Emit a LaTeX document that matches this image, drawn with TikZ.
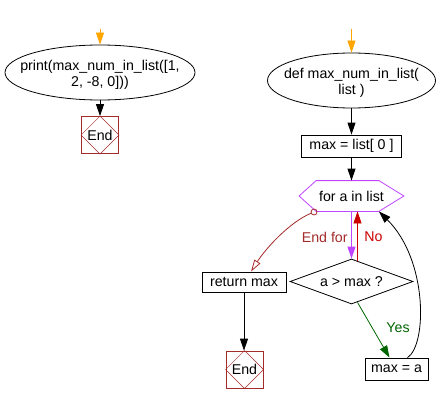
\documentclass[tikz,border=0pt]{standalone}
\usepackage{fontspec}
\setmainfont{Liberation Sans}
\usetikzlibrary{shapes.geometric,arrows.meta}
\definecolor{endred}{RGB}{165,42,42}
\definecolor{orng}{RGB}{255,165,0}
\definecolor{vio}{RGB}{190,70,255}
\definecolor{nored}{RGB}{204,0,0}
\definecolor{yesgreen}{RGB}{0,100,0}
\begin{document}
\begin{tikzpicture}[x=1pt,y=-1pt, font=\fontsize{14.2}{16}\selectfont, line width=0.8pt,
  ell/.style={draw, ellipse, inner sep=0pt},
  etext/.style={align=center, inner sep=0pt},
  proc/.style={draw, rectangle, inner sep=0pt},
  endbox/.style={draw=endred, rectangle, minimum width=37pt, minimum height=37pt, inner sep=0pt},
  arr/.style={-{Triangle[length=12pt,width=8pt]}},
  oarr/.style={-{Triangle[open,length=12pt,width=7pt]}},
  endmark/.style={endred, line width=0.5pt},
]
\useasboundingbox (0,0) rectangle (438,404);

% left flow
\node[ell, minimum width=190pt, minimum height=55pt] (p) at (100,72.5) {};
\node[etext] (pt) at ([yshift=-2pt]p.center) {print(max\_num\_in\_list([1,\\2, -8, 0]))};
\node[endbox] (end1) at (100,135) {End};
\draw[endmark] (end1.north) -- (end1.east) -- (end1.south) -- (end1.west) -- cycle;
\coordinate (s1) at (100,29);
\draw[orng, arr] (s1) -- (p.north);
\draw[arr] (p.south) -- (end1.north);

% right flow
\node[ell, minimum width=168pt, minimum height=55pt] (def) at (351.5,80.5) {};
\node[etext] (deft) at ([yshift=-2pt]def.center) {def max\_num\_in\_list(\\list )};
\coordinate (s2) at (351.5,29);
\draw[orng, arr] (s2) -- (def.north);
\node[proc, minimum width=100pt, minimum height=22pt] (init) at (351.5,146) {max = list[ 0 ]};
\draw[arr] (def.south) -- (init.north);

\node[minimum width=104pt, minimum height=30pt, inner sep=0pt] (loop) at (351.5,196) {for a in list};
\draw[vio] (loop.west) -- ([xshift=17pt]loop.north west) -- ([xshift=-25pt]loop.north east) -- (loop.east) -- ([xshift=-25pt]loop.south east) -- ([xshift=17pt]loop.south west) -- cycle;
\draw[arr] (init.south) -- (loop.north);

\node[draw, diamond, aspect=2.7, minimum width=123pt, minimum height=45pt, inner sep=0pt] (cond) at (351.5,281.5) {a > max ?};
\draw[vio, arr] (loop.south) -- (cond.north);
\draw[nored, arr] ([xshift=6pt,yshift=-2pt]cond.north) -- ([xshift=6pt]loop.south);

\node[endred, anchor=east, inner sep=0pt] (lend) at (348,237) {End for};
\node[nored, anchor=west, inner sep=0pt] (lno) at (364,237) {No};
\node[yesgreen, inner sep=0pt] (lyes) at (398,328) {Yes};

\node[proc, minimum width=84pt, minimum height=20pt] (ret) at (244,282) {return max};
\node[endbox] (end2) at (244.5,369.5) {End};
\draw[endmark] (end2.north) -- (end2.east) -- (end2.south) -- (end2.west) -- cycle;
\draw[arr] (ret.south) -- (ret.south |- end2.north);

\node[proc, minimum width=63pt, minimum height=22pt] (upd) at (396.5,369) {max = a};

\node[draw=endred, circle, inner sep=0pt, minimum size=6pt] (eo) at (314,212) {};
\draw[endred, oarr] (eo) .. controls (290,222) and (266,248) .. ([xshift=7pt]ret.north);

\draw[yesgreen, arr] ([xshift=6pt,yshift=2pt]cond.south) -- ([xshift=-7pt]upd.north);
\draw[arr] ([xshift=11pt]upd.north) .. controls (427,345) and (428,260) .. ([xshift=-25pt]loop.south east);
\end{tikzpicture}
\end{document}
